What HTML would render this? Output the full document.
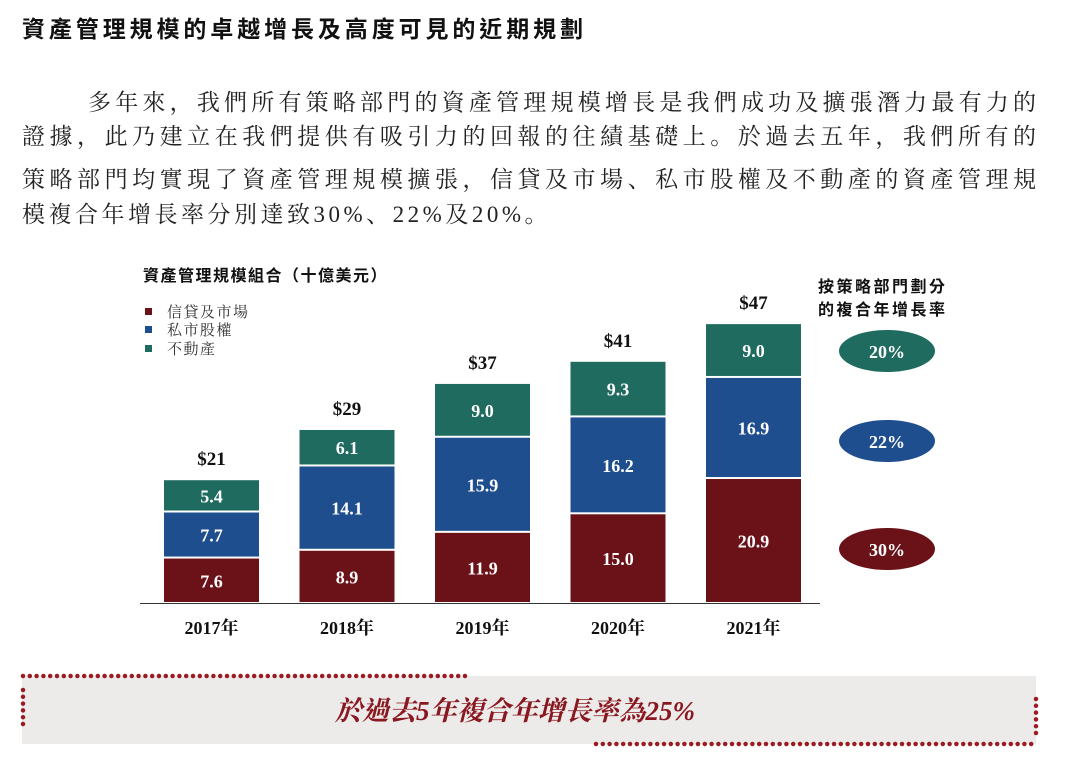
<!DOCTYPE html>
<html><head><meta charset="utf-8"><style>
body{margin:0;width:1080px;height:784px;background:#fff;position:relative;overflow:hidden;font-family:"Liberation Serif","Noto Serif CJK SC",serif;}
.t{position:absolute;left:22px;top:10px;font-family:"Liberation Sans","Noto Sans CJK TC",sans-serif;font-weight:bold;font-size:23px;letter-spacing:3.9px;color:#111;white-space:nowrap}
.ln{position:absolute;left:22px;width:1014px;font-size:23px;color:#222;text-align:justify;text-align-last:justify;white-space:nowrap;line-height:30px}
</style></head><body>
<div class="t">資產管理規模的卓越增長及高度可見的近期規劃</div>
<div>
<div class="ln" style="top:88px;left:88px;width:948px">多年來，我們所有策略部門的資產管理規模增長是我們成功及擴張潛力最有力的</div>
<div class="ln" style="top:122px">證據，此乃建立在我們提供有吸引力的回報的往績基礎上。於過去五年，我們所有的</div>
<div class="ln" style="top:165px">策略部門均實現了資產管理規模擴張，信貸及市場、私市股權及不動產的資產管理規</div>
<div class="ln" style="top:200px;width:auto;text-align-last:left;letter-spacing:3.5px">模複合年增長率分別達致30%、22%及20%。</div>
</div>
<svg id="chart" width="1080" height="784" style="position:absolute;left:0;top:0">
<g font-family="Liberation Sans, Noto Sans CJK TC, sans-serif" font-weight="bold" fill="#111">
<text x="143" y="281" font-size="16" letter-spacing="1.5">資產管理規模組合（十億美元）</text>
<text x="818" y="292" font-size="16" letter-spacing="2.5">按策略部門劃分</text>
<text x="818" y="315" font-size="16" letter-spacing="2.5">的複合年增長率</text>
</g>
<g font-size="15" letter-spacing="1.5" fill="#333" font-family="Liberation Serif, Noto Serif CJK TC, serif">
<g><rect x="145" y="308" width="7" height="7" fill="#6b1219"/><text x="167" y="317">信貸及市場</text></g>
<g><rect x="145" y="326" width="7" height="7" fill="#1f4e8f"/><text x="167" y="335">私市股權</text></g>
<g><rect x="145" y="345" width="7" height="7" fill="#1f6b5f"/><text x="167" y="354">不動產</text></g>
</g>
<g id="bars"></g>
<line x1="140" y1="603.5" x2="820" y2="603.5" stroke="#333" stroke-width="1"/>
<g font-family="Liberation Serif, Noto Serif CJK TC, serif" font-weight="bold" font-size="18" fill="#fff" text-anchor="middle">
<g><ellipse cx="887" cy="351" rx="48" ry="21" fill="#1f6b5f"/><text x="887" y="358">20%</text></g>
<g><ellipse cx="887" cy="441" rx="48" ry="21" fill="#1f4e8f"/><text x="887" y="448">22%</text></g>
<g><ellipse cx="887" cy="549" rx="48" ry="21" fill="#6b1219"/><text x="887" y="556">30%</text></g>
</g>
<g>
<rect x="22" y="676" width="1014" height="68" fill="#edebea"/>
<g stroke="#9b1b22" stroke-width="4.5" stroke-linecap="round" stroke-dasharray="0 6.8" fill="none">
<line x1="23" y1="676" x2="468" y2="676"/>
<line x1="23" y1="690" x2="23" y2="726"/>
<line x1="596" y1="744" x2="1038" y2="744"/>
<line x1="1036" y1="733" x2="1036" y2="697"/>
</g>
<text x="515" y="720" text-anchor="middle" font-family="Liberation Serif, Noto Serif CJK TC, serif" font-style="italic" font-weight="bold" font-size="27" fill="#8a1820">於過去5年複合年增長率為25%</text>
</g>
</svg>
<script>
const years=["2017年","2018年","2019年","2020年","2021年"];
const credit=[7.6,8.9,11.9,15.0,20.9];
const privateEquity=[7.7,14.1,15.9,16.2,16.9];
const realEstate=[5.4,6.1,9.0,9.3,9.0];
const totals=["$21","$29","$37","$41","$47"];
const NS="http://www.w3.org/2000/svg";
const base=603, k=5.98, x0=164, step=135.5, bw=95;
const y=v=>base-v*k;
const g=document.getElementById('bars');
function mk(tag,attrs,txt){const e=document.createElementNS(NS,tag);for(const a in attrs)e.setAttribute(a,attrs[a]);if(txt!=null)e.textContent=txt;g.appendChild(e);return e;}
const series=[[credit,"#6b1219","credit"],[privateEquity,"#1f4e8f","private-equity"],[realEstate,"#1f6b5f","real-estate"]];
years.forEach((yr,i)=>{
  const x=x0+i*step;let acc=0;
  series.forEach(([arr,col,nm])=>{
    const v=arr[i];const top=y(acc+v),bot=y(acc);
    const r=mk('rect',{x:x,y:top+1,width:bw,height:bot-top-2,fill:col});
    
    
    const t=mk('text',{x:x+bw/2,y:(top+bot)/2+7,'text-anchor':'middle',fill:'#fff','font-family':'Liberation Serif, serif','font-weight':'bold','font-size':'18'},v.toFixed(1));
    
    
    acc+=v;
  });
  const tt=mk('text',{x:x+bw/2,y:y(acc)-14,'text-anchor':'middle',fill:'#111','font-family':'Liberation Serif, serif','font-weight':'bold','font-size':'19'},totals[i]);
  
  
  const xl=mk('text',{x:x+bw/2,y:634,'text-anchor':'middle',fill:'#111','font-family':'Liberation Serif, Noto Serif CJK TC, serif','font-weight':'bold','font-size':'18'},yr);
  
  
});
</script>
</body></html>
